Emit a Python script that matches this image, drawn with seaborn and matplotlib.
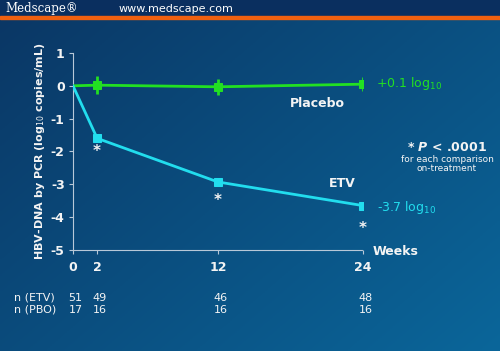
import numpy as np
import pandas as pd
import matplotlib
matplotlib.use('Agg')
import matplotlib.pyplot as plt
import matplotlib.transforms as mtransforms
from matplotlib.patches import Rectangle
import seaborn as sns

sns.set_style('ticks')
plt.rcParams['font.family'] = ['DejaVu Sans']

# data
weeks = [0, 2, 12, 24]
etv = [0, -1.6, -2.93, -3.65]
pbo = [0, 0.02, -0.03, 0.05]
pbo_err = [0, 0.27, 0.25, 0.22]
n_etv = ['51', '49', '46', '48']
n_pbo = ['17', '16', '16', '16']
star_y = [-2.0, -3.5, -4.35]
yticks = [1, 0, -1, -2, -3, -4, -5]

green = '#22e022'
cyan = '#22ddee'
white = '#f4f4f4'

fig = plt.figure(figsize=(5, 3.51), dpi=100)

# gradient background
bg = fig.add_axes([0, 0, 1, 1], zorder=-5)
gx, gy = np.meshgrid(np.linspace(0, 1, 200), np.linspace(0, 1, 140))
t = np.clip(0.55 * gx + 0.45 * gy, 0, 1)
c0 = np.array([0x0b, 0x36, 0x64]) / 255
c1 = np.array([0x0a, 0x66, 0x9a]) / 255
img = c0[None, None, :] * (1 - t[..., None]) + c1[None, None, :] * t[..., None]
bg.imshow(img, aspect='auto', extent=[0, 1, 0, 1], origin='upper')
bg.axis('off')

# header band
fig.patches.append(Rectangle((0, 1 - 16 / 351), 1, 16 / 351, transform=fig.transFigure,
                             color='#0a2f5f', zorder=-1))
fig.patches.append(Rectangle((0, 1 - 18.5 / 351), 1, 2.5 / 351, transform=fig.transFigure,
                             color='#f0600f', zorder=-1))
fig.text(0.01, 1 - 8.5 / 351, 'Medscape\u00ae', color='white', fontsize=8.5,
         family='DejaVu Serif', va='center', ha='left')
fig.text(0.238, 1 - 8.5 / 351, 'www.medscape.com', color='white', fontsize=8,
         va='center', ha='left')

ax = fig.add_axes([0.146, 0.288, 0.58, 0.561])
ax.patch.set_alpha(0)

df_etv = pd.DataFrame({'week': weeks, 'value': etv})
df_pbo = pd.DataFrame({'week': weeks, 'value': pbo})

ax.errorbar(weeks[1:], pbo[1:], yerr=pbo_err[1:], fmt='none', ecolor=green,
            elinewidth=2, capsize=0, zorder=3)
sns.lineplot(data=df_pbo, x='week', y='value', ax=ax, color=green, linewidth=2,
             marker='s', markersize=6, markeredgecolor=green, markevery=[1, 2, 3],
             zorder=4)
sns.lineplot(data=df_etv, x='week', y='value', ax=ax, color=cyan, linewidth=2,
             marker='s', markersize=6, markeredgecolor=cyan, markevery=[1, 2, 3],
             zorder=4)

ax.set_xlim(0, 24)
ax.set_ylim(-5, 1)
ax.set_xticks(weeks)
ax.set_xticklabels([str(w) for w in weeks])
ax.set_yticks(yticks)
ax.set_yticklabels([str(v) for v in yticks])
ax.tick_params(colors='#b8c8d8', labelcolor=white, length=3, width=0.8, labelsize=9)
for lab in ax.get_xticklabels() + ax.get_yticklabels():
    lab.set_fontweight('bold')
ax.tick_params(axis='x', pad=5)
ax.tick_params(axis='y', pad=3)
for s in ['top', 'right']:
    ax.spines[s].set_visible(False)
for s in ['left', 'bottom']:
    ax.spines[s].set_color('#b8c8d8')
    ax.spines[s].set_linewidth(0.8)
ax.spines['bottom'].set_linestyle((0, (2, 1)))
ax.set_xlabel('')
ax.set_ylabel('HBV-DNA by PCR (log$_{10}$ copies/mL)', color=white, fontsize=8,
              fontweight='bold', labelpad=3)

# annotations
for w, sy in zip(weeks[1:], star_y):
    ax.text(w, sy, '*', color=white, fontsize=11, fontweight='bold', ha='center', va='center')
ax.text(20.2, -0.55, 'Placebo', color=white, fontsize=9, fontweight='bold', ha='center', va='center')
ax.text(22.3, -2.98, 'ETV', color=white, fontsize=9, fontweight='bold', ha='center', va='center')
ax.text(25.1, 0.06, '+0.1 log$_{10}$', color=green, fontsize=9, ha='left', va='center', clip_on=False)
ax.text(25.2, -3.7, '-3.7 log$_{10}$', color=cyan, fontsize=9, ha='left', va='center', clip_on=False)
ax.text(24.8, -5.05, 'Weeks', color=white, fontsize=9, fontweight='bold', ha='left', va='center', clip_on=False)

fig.text(0.894, 0.581, '* $\\boldsymbol{P}$ < .0001', color=white, fontsize=9, fontweight='bold',
         ha='center', va='center')
fig.text(0.894, 0.547, 'for each comparison', color=white, fontsize=6.5, ha='center', va='center')
fig.text(0.894, 0.519, 'on-treatment', color=white, fontsize=6.5, ha='center', va='center')

# n at risk rows
trans = mtransforms.blended_transform_factory(ax.transData, fig.transFigure)
row1 = 1 - 298 / 351
row2 = 1 - 310 / 351
fig.text(0.028, row1, 'n (ETV)', color=white, fontsize=8, ha='left', va='center')
fig.text(0.028, row2, 'n (PBO)', color=white, fontsize=8, ha='left', va='center')
for w, a, b in zip(weeks, n_etv, n_pbo):
    ax.text(w + 0.2, row1, a, transform=trans, color=white, fontsize=8, ha='center', va='center')
    ax.text(w + 0.2, row2, b, transform=trans, color=white, fontsize=8, ha='center', va='center')

fig.savefig('out.png', dpi=100)
